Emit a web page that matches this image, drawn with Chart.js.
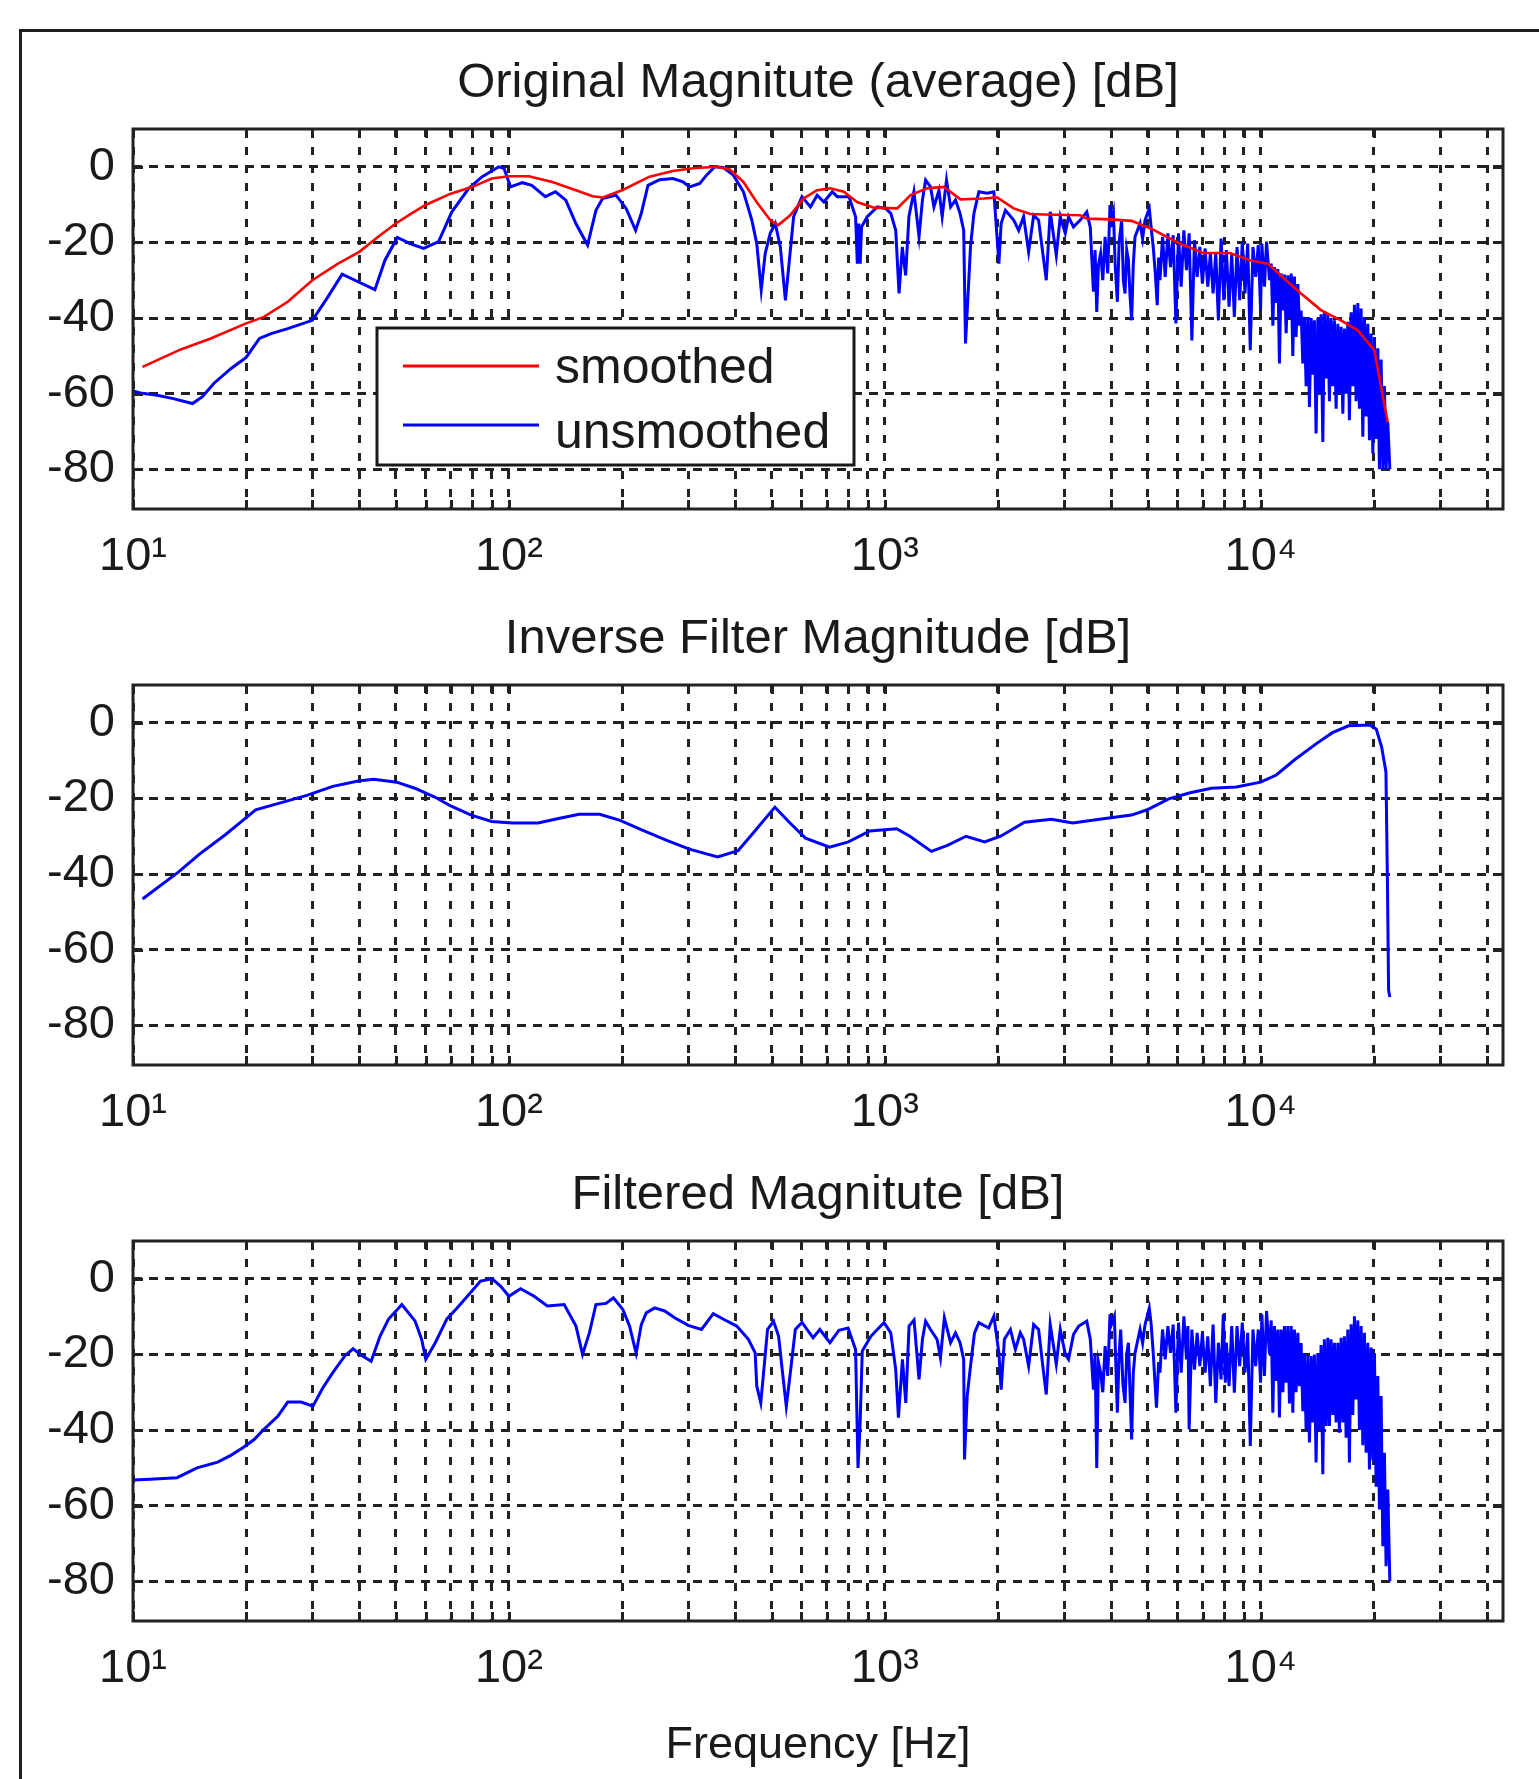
<!DOCTYPE html>
<html>
<head>
<meta charset="utf-8">
<script src="https://cdn.jsdelivr.net/npm/chart.js@4.4.1/dist/chart.umd.min.js"></script>
<style>
html,body{margin:0;padding:0;background:#fff;overflow:hidden;width:1539px;height:1779px;}
#frame{position:absolute;left:19px;top:29px;width:1600px;height:1800px;border-left:3px solid #1e1e1e;border-top:3px solid #1e1e1e;}
canvas{position:absolute;left:0;}
</style>
</head>
<body>
<div id="frame"></div>
<canvas id="c1" width="1539" height="589" style="top:0px"></canvas>
<canvas id="c2" width="1539" height="589" style="top:556px"></canvas>
<canvas id="c3" width="1539" height="667" style="top:1112px"></canvas>
<script>
// ---------- titles & ticks ----------
const title1 = 'Original Magnitute (average) [dB]';
const title2 = 'Inverse Filter Magnitude [dB]';
const title3 = 'Filtered Magnitute [dB]';
const xAxisTitle = 'Frequency [Hz]';
const seriesLabels = ['smoothed', 'unsmoothed'];

const xMin = 10, xMax = 44100;
const yMin = -90.5, yMax = 10;
const yTickValues = [-80, -60, -40, -20, 0];
const xGridValues = [10,20,30,40,50,60,70,80,90,100,200,300,400,500,600,700,800,900,
  1000,2000,3000,4000,5000,6000,7000,8000,9000,10000,20000,30000,40000];
const decadeValues = [10, 100, 1000, 10000];
const decadeLabels = ['10\u00B9', '10\u00B2', '10\u00B3', '10\u2074'];

// ---------- plot 1: smoothed (red) ----------
const smoothFreq = [10.6,13.4,16.1,20,22.3,25.8,30,35.1,40,44.9,
  50,55.1,60,70,80,90,100,113,130.5,150.8,
  167,177.7,200,236.6,273,309,356.8,387,420.6,456,
  495.5,521,560,608,660,716,778,844,936,1079,
  1171,1296,1436,1590,1832,1988,2202,2439,2645,3311,
  3445,3975,4536,5176,5613,6221,7025,8275,9350,10440,
  11800,12800,14460,16340,18100,20050,20900,21760];
const smoothMag = [-52.9,-48.3,-45.4,-41.4,-39.7,-35.7,-30,-25.6,-22.5,-18.5,
  -15,-12.3,-10.1,-7.1,-5.3,-3.1,-2.5,-2.5,-4,-6.2,
  -7.8,-8.1,-6.2,-2.6,-1.1,-0.4,0,-0.7,-4,-9.3,
  -14.1,-15.4,-12.8,-8.4,-6.2,-5.7,-6.6,-9.3,-10.8,-11,
  -7.5,-5.7,-5.3,-8.6,-8.4,-8.1,-11,-12.5,-12.6,-12.8,
  -13.7,-13.9,-14.3,-16.6,-18.5,-20.7,-22.8,-22.8,-24.7,-25.6,
  -30.4,-33.5,-37.9,-40.6,-43.2,-48.5,-58.2,-67.5];

// ---------- plot 1: unsmoothed (blue) ----------
const origFreq = [10,10.46,11.6,12.8,14.4,15.3,16.4,18.2,20,21.7,
  23.3,25.8,30,33,36,39.7,44,46.8,50.5,54.6,
  59.3,65,70.5,78.2,84.9,94,97,101,108.6,115,
  125,133,141.7,150.7,161.9,170.4,177.5,192.7,205,217.3,
  225,234.4,251.8,273.3,290.5,302.6,322,335.5,353,371.6,
  395.3,420.6,442.8,456.4,469,480.6,495.6,511.2,527.3,543.9,
  555,572,602,634,660.7,688.5,724.8,747,803,836,
  845,853,860,867,898,955,1005,1037,1069,1091,
  1113,1136,1159,1195,1233,1259,1284,1323,1351,1393,
  1421,1459,1496,1542,1585,1621,1639,1662,1690,1726,
  1779,1871,1950,2011,2039,2093,2202,2270,2340,2413,
  2488,2565,2632,2688,2754,2858,2929,3020,3081,3176,
  3311,3445,3520,3589,3625,3662,3700,3750,3800,3855,
  3917,3972,4010,4055,4100,4155,4200,4265,4310,4355,
  4400,4446,4490,4535,4580,4630,4775,4850,4923,5053,
  5110,5176,5240,5305,5350,5393,5480,5570,5662,5754,
  5849,5947,6042,6142,6245,6345,6450,6558,6663,6774,
  6886,6996,7112,7229,7345,7468,7593,7715,7842,7973,
  8101,8236,8372,8506,8648,8790,8931,9081,9231,9379,
  9535,9692,9849,9990,10068,10230,10360,10550,10660,10770,
  10877,10990,11104,11213,11330,11455,11560,11685,11804,11922,
  12050,12170,12290,12416,12550,12676,12805,12940,13062,13205,
  13340,13475,13615,13755,13890,14035,14185,14320,14470,14625,
  14765,14925,15080,15230,15385,15550,15703,15866,16032,16190,
  16360,16534,16695,16870,17045,17214,17393,17575,17750,17935,
  18124,18304,18494,18687,18873,19070,19268,19460,19663,19868,
  20066,20273,20484,20688,20903,21121,21331,21550,21775,22050];
const origMag = [-59.3,-59.8,-60.4,-61.3,-62.6,-60.8,-57.3,-53.4,-50.4,-45.4,
  -44.1,-42.8,-40.6,-34.4,-28.4,-30.4,-32.5,-24.7,-18.7,-20.3,
  -21.6,-19.8,-11.9,-5.7,-2.6,0,-0.4,-5.3,-4.2,-4.9,
  -7.9,-6.6,-8.8,-15,-20.7,-11.5,-8.4,-7.5,-11,-16.8,
  -12.3,-4.9,-3.4,-3.1,-4,-5.3,-4.4,-2.2,0,-0.2,
  -2.2,-6.6,-14.1,-20.3,-32.6,-22.9,-17.6,-15,-21.2,-35.3,
  -26.5,-13.2,-7.9,-10.6,-7.5,-9.3,-6.6,-7.9,-7.9,-13.2,
  -25.6,-15,-25.6,-15.9,-13.2,-10.6,-11,-12.3,-16.8,-33.5,
  -21.2,-28.7,-13.2,-6.6,-18.5,-8.8,-3.5,-5.3,-10.6,-6.2,
  -13.2,-3.5,-10.6,-8.8,-12.3,-16.8,-46.7,-35.3,-21.2,-12.3,
  -6.6,-7,-6.6,-25.6,-15,-11.5,-14.1,-16.8,-13.2,-22.5,
  -12.8,-14.1,-22.9,-30,-11.9,-23.4,-13.2,-17.6,-13.2,-15.9,
  -14.1,-11.9,-16,-33,-22,-38.4,-26,-22.9,-30,-18.5,
  -28.2,-10.1,-14,-11.9,-26,-35.7,-20,-14.1,-30,-33.5,
  -22,-24.7,-34,-40.6,-26,-18.5,-15,-19,-14.1,-11,
  -16,-21.2,-28,-36.6,-24,-30,-18.5,-29.1,-17.6,-26.5,
  -18.1,-41.4,-17.6,-31.7,-16.8,-27.3,-17.6,-45.9,-19.4,-29.1,
  -21.2,-30.9,-21.6,-31.7,-22.9,-33.5,-22.9,-40.6,-19,-35.3,
  -22,-37,-22.9,-39.7,-21.2,-35.3,-19.8,-33.5,-20.3,-48.5,
  -21.2,-29.1,-20.7,-37.9,-20.3,-31.7,-19.8,-30,-25.6,-42,
  -26.5,-36,-27,-52,-28.2,-38,-28.5,-44,-28.7,-40,
  -28.2,-50,-29,-45,-31,-42,-38,-52,-39.7,-58,
  -39.7,-63.5,-40,-55,-40.6,-70.5,-40,-60,-39,-72.8,
  -38.4,-56,-38.8,-62,-40,-58,-40.6,-64,-41.5,-60,
  -42.3,-65.3,-42.8,-60,-41,-67,-38.5,-58,-36.5,-62,
  -36,-64,-37.5,-71.4,-39.7,-66,-41.5,-72.3,-44.1,-75.8,
  -45,-72,-48,-80,-51,-80,-58,-80,-67.5,-80];

// ---------- plot 2: inverse filter ----------
const invFreq = [10.6,13.2,15,17.6,19.6,21.2,24.8,29,34,39.7,
  43.7,50.3,56.2,63.7,70,79.4,90,102,119.5,135.5,
  153.7,174.3,197.7,224,262,302,359,407,447,510,
  557,615,713,800,912,1075,1166,1330,1467,1645,
  1843,2032,2353,2773,3162,3725,4530,4990,5690,6490,
  7390,8610,9990,11000,12330,14060,15510,17120,19510,20300,
  20970,21530,21730,21880,22050];
const invMag = [-46.6,-39.5,-34.8,-29.6,-25.8,-23,-21.1,-19.2,-16.8,-15.4,
  -14.9,-15.7,-17.3,-19.7,-22,-24.4,-26.1,-26.5,-26.5,-25.3,
  -24.2,-24.2,-25.8,-28.2,-31,-33.4,-35.5,-33.8,-29.1,-22.3,
  -26.3,-30.5,-32.9,-31.5,-28.6,-28,-30,-34,-32.4,-30,
  -31.5,-30,-26.3,-25.5,-26.5,-25.5,-24.4,-23,-20.1,-18.5,
  -17.3,-17,-15.7,-13.8,-9.7,-5.5,-2.6,-0.8,-0.6,-1.7,
  -6.4,-13,-42.3,-70.7,-72.5];

// ---------- plot 3: filtered ----------
const filtFreq = [10,11.1,13.1,14.8,16.8,18.2,19.6,21,22.3,24.3,
  25.8,28,30.1,32,34,36.6,38.5,40.6,43,45.4,
  47.8,51.9,56.3,58.6,60.1,63.7,68.4,72.8,79,84,
  90.2,95,100,107.4,116.7,126.6,140.3,150.8,157,163.7,
  170.4,181.3,189.7,200.9,209.4,218,225,231.9,244.2,259.6,
  276,299.9,325.3,349.7,375.6,403.6,433.6,451.9,456.4,467.7,
  477.6,487.5,505.8,521.8,535.6,546.9,560.6,578,602.1,644.3,
  671.6,714.5,755,798.5,836,848.5,859,871,918,955,
  995,1037,1069,1087,1114,1137,1160,1196,1233,1259,
  1284,1323,1377,1406,1440,1496,1542,1585,1621,1629,
  1656,1690,1732,1779,1889,1950,2011,2039,2080,2158,
  2225,2293,2340,2413,2488,2565,2632,2688,2754,2858,
  2929,3020,3081,3176,3280,3445,3520,3589,3625,3662,
  3700,3750,3800,3855,3917,3972,4010,4080,4120,4155,
  4200,4240,4300,4355,4400,4446,4490,4535,4580,4630,
  4775,4850,4923,5053,5110,5176,5280,5350,5393,5480,
  5570,5662,5754,5849,5947,6042,6142,6245,6345,6400,
  6450,6558,6663,6774,6886,6996,7112,7229,7345,7468,
  7593,7715,7842,7950,8050,8101,8236,8372,8506,8648,
  8790,8931,9081,9231,9379,9535,9692,9849,9990,10068,
  10230,10360,10550,10660,10770,10877,10990,11104,11213,11330,
  11455,11560,11685,11804,11922,12050,12170,12290,12416,12550,
  12676,12805,12940,13062,13205,13340,13475,13615,13755,13890,
  14035,14185,14320,14470,14625,14765,14925,15080,15230,15385,
  15550,15703,15866,16032,16190,16360,16534,16695,16870,17045,
  17214,17393,17575,17750,17935,18124,18304,18494,18687,18873,
  19070,19268,19460,19663,19868,20066,20273,20484,20688,20903,
  21121,21331,21550,21775,22050];
const filtMag = [-53.2,-53,-52.6,-50,-48.5,-46.7,-44.7,-42.5,-39.8,-36.3,
  -32.6,-32.6,-33.7,-28.8,-24.8,-20.4,-18.5,-20.3,-21.8,-15.2,
  -10.7,-6.8,-11.2,-16,-21.3,-16.9,-10.6,-7.7,-3.7,-0.6,
  0,-1.9,-4.6,-2.6,-4.6,-7.2,-6.8,-12.5,-20,-14.3,
  -6.8,-6.5,-5,-8.1,-12.5,-19.7,-12.1,-9,-7.7,-8.5,
  -10.3,-12.3,-13.4,-9.2,-10.9,-12.5,-16,-19.6,-28.4,-32.8,
  -23.1,-13.4,-11.2,-15.2,-25.7,-33.7,-24.8,-13.4,-11.5,-15.6,
  -13.4,-16.9,-13.6,-13,-18.7,-50,-38.9,-19.1,-15.2,-13.4,
  -11.6,-14.3,-24,-36.7,-21.3,-32.8,-12.5,-10.9,-26.6,-16,
  -11.2,-13.4,-16,-20.9,-10.3,-16.9,-14.3,-16.9,-21.3,-47.8,
  -31,-23.1,-14.3,-11.6,-13,-9.9,-19.6,-29.3,-16,-13.4,
  -18.7,-14.3,-16,-23.1,-12.1,-13.4,-23.1,-30.6,-12.1,-22.6,
  -13.4,-20,-21.3,-14.7,-12.5,-11.2,-16,-29.3,-20,-50,
  -22,-24.8,-30,-17.8,-25.7,-9.4,-12,-9.9,-24,-35.4,
  -20,-13.4,-28,-32.8,-20,-16.9,-30,-42.5,-25,-19.6,
  -13.4,-17,-12.1,-7.7,-12,-19.6,-34.1,-22,-24.8,-13.4,
  -21.3,-12.5,-19.6,-12.1,-35.4,-11.6,-24.8,-9.9,-21.3,-12.5,
  -39.8,-13.4,-24,-14.3,-23.1,-14.3,-24.8,-15.2,-28.4,-12.1,
  -32.8,-16.9,-26.6,-9.4,-27.5,-16.9,-28.4,-12.5,-30.1,-12.5,
  -23.1,-11.6,-24.8,-14.3,-44.2,-13.4,-23.1,-13.4,-27.5,-9.4,
  -25.7,-8.5,-20,-11,-35.4,-12.5,-27,-13.4,-36.7,-13.4,
  -30,-12.5,-27.5,-12.5,-33,-12.5,-35.4,-13.4,-30,-14.3,
  -28.4,-17,-35,-19.6,-40,-20.4,-43.3,-20.4,-38,-20,
  -48.6,-19.6,-40,-17.5,-51.7,-16,-38.9,-15.6,-38.9,-16,
  -36,-16.9,-38,-16.9,-40.7,-15.6,-38,-15.2,-42,-13.4,
  -48.6,-12,-36,-9.9,-31.9,-11,-40,-12.5,-44,-14.3,
  -46,-16.9,-50.4,-18.2,-48,-19.6,-55,-25.7,-61,-31,
  -70.7,-46,-76,-55.7,-80];

// ---------- styling ----------
const FONT = "'Liberation Sans', Arial, Helvetica, 'DejaVu Sans', sans-serif";
const TEXT = '#1a1a1a';
const GRID = '#222222';
const RED = 'rgb(255,0,0)';
const BLUE = 'rgb(0,0,255)';

function pts(f, m) {
  const n = Math.min(f.length, m.length);
  const out = [];
  for (let i = 0; i < n; i++) out.push({x: f[i], y: m[i]});
  return out;
}

const boxPlugin = {
  id: 'matlabBox',
  afterDraw(chart) {
    const {ctx, chartArea: a, scales: {x, y}} = chart;
    ctx.save();
    ctx.strokeStyle = GRID;
    ctx.lineWidth = 3;
    ctx.beginPath();
    xGridValues.forEach(v => {
      const px = Math.round(x.getPixelForValue(v)) + 0.5;
      ctx.moveTo(px, a.top); ctx.lineTo(px, a.top + 9);
      ctx.moveTo(px, a.bottom); ctx.lineTo(px, a.bottom - 9);
    });
    yTickValues.forEach(v => {
      const py = Math.round(y.getPixelForValue(v)) + 0.5;
      ctx.moveTo(a.left, py); ctx.lineTo(a.left + 10, py);
      ctx.moveTo(a.right, py); ctx.lineTo(a.right - 10, py);
    });
    ctx.stroke();
    ctx.lineWidth = 3;
    ctx.strokeRect(a.left, a.top, a.right - a.left, a.bottom - a.top);
    ctx.restore();
  }
};

const legendPlugin = {
  id: 'insetLegend',
  afterDraw(chart, args, o) {
    if (!o || !o.display) return;
    const {ctx, chartArea: a} = chart;
    const x0 = a.left + o.left, y0 = a.top + o.top;
    ctx.save();
    ctx.fillStyle = '#ffffff';
    ctx.fillRect(x0, y0, o.width, o.height);
    ctx.lineWidth = 3;
    ctx.strokeStyle = '#1a1a1a';
    ctx.strokeRect(x0, y0, o.width, o.height);
    ctx.font = o.fontSize + 'px ' + FONT;
    ctx.textAlign = 'left';
    ctx.textBaseline = 'alphabetic';
    chart.data.datasets.forEach((ds, i) => {
      const ly = y0 + o.lineY[i];
      ctx.strokeStyle = ds.borderColor;
      ctx.lineWidth = 3;
      ctx.beginPath();
      ctx.moveTo(x0 + o.lineX0, ly);
      ctx.lineTo(x0 + o.lineX1, ly);
      ctx.stroke();
      ctx.fillStyle = TEXT;
      ctx.fillText(ds.label, x0 + o.textX, y0 + o.textBase[i]);
    });
    ctx.restore();
  }
};

function makeChart(id, cfg) {
  return new Chart(document.getElementById(id), {
    type: 'line',
    data: { datasets: cfg.datasets },
    options: {
      responsive: false,
      animation: false,
      events: [],
      layout: { padding: { left: 0, right: 36, top: 0, bottom: 0 } },
      elements: { point: { radius: 0 }, line: { tension: 0, borderWidth: 3 } },
      plugins: {
        legend: { display: false },
        tooltip: { enabled: false },
        title: {
          display: true, text: cfg.title, fullSize: false, color: TEXT,
          font: { family: FONT, size: 49, weight: 'normal', lineHeight: 1 },
          padding: { top: 59, bottom: 21 }
        },
        insetLegend: cfg.legend || { display: false }
      },
      scales: {
        x: {
          type: 'logarithmic', min: xMin, max: xMax,
          afterBuildTicks: s => { s.ticks = xGridValues.map(v => ({ value: v })); },
          afterFit: s => { s.height = cfg.xAxisHeight; },
          ticks: {
            autoSkip: false, maxRotation: 0, minRotation: 0, padding: 25, color: TEXT,
            font: { family: FONT, size: 47, lineHeight: 1 },
            callback: v => { const k = decadeValues.indexOf(v); return k >= 0 ? decadeLabels[k] : ''; }
          },
          grid: { color: GRID, lineWidth: 3, drawTicks: false },
          border: { display: false, dash: [8, 10] },
          title: cfg.xTitle ? {
            display: true, text: cfg.xTitle, color: TEXT,
            font: { family: FONT, size: 45, weight: 'normal', lineHeight: 1 },
            padding: { top: 0, bottom: 11 }
          } : { display: false }
        },
        y: {
          type: 'linear', min: yMin, max: yMax,
          afterBuildTicks: s => { s.ticks = yTickValues.map(v => ({ value: v })); },
          afterFit: s => { s.width = 133; },
          ticks: { padding: 18, color: TEXT, font: { family: FONT, size: 47, lineHeight: 1 } },
          grid: { color: GRID, lineWidth: 3, drawTicks: false },
          border: { display: false, dash: [9, 7] }
        }
      }
    },
    plugins: [boxPlugin, legendPlugin]
  });
}

makeChart('c1', {
  title: title1,
  xAxisHeight: 80,
  datasets: [
    { label: seriesLabels[0], data: pts(smoothFreq, smoothMag), borderColor: RED, borderWidth: 2.6 },
    { label: seriesLabels[1], data: pts(origFreq, origMag), borderColor: BLUE, borderWidth: 3 }
  ],
  legend: { display: true, left: 244, top: 199, width: 477, height: 137,
            lineX0: 26, lineX1: 162, textX: 178, lineY: [38, 97], textBase: [55, 120], fontSize: 50 }
});

makeChart('c2', {
  title: title2,
  xAxisHeight: 80,
  datasets: [
    { label: 'inverse', data: pts(invFreq, invMag), borderColor: BLUE, borderWidth: 3 }
  ]
});

makeChart('c3', {
  title: title3,
  xAxisHeight: 158,
  xTitle: xAxisTitle,
  datasets: [
    { label: 'filtered', data: pts(filtFreq, filtMag), borderColor: BLUE, borderWidth: 3 }
  ]
});
</script>
</body>
</html>
